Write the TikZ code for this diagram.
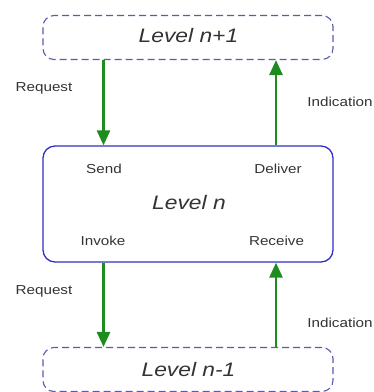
\documentclass[tikz,border=0pt]{standalone}
\usepackage{fontspec}
\setmainfont{Liberation Sans}
\newfontfamily\widesans[FakeStretch=1.17]{Liberation Sans}
\usetikzlibrary{arrows.meta}
\definecolor{dashblue}{HTML}{5A5AB0}
\definecolor{boxblue}{HTML}{3030C8}
\definecolor{arrgreen}{HTML}{1E8C1E}
\definecolor{txt}{HTML}{333333}
\begin{document}
\begin{tikzpicture}[x=1pt,y=-1pt,
  levelbox/.style={draw=dashblue,dashed,dash pattern=on 7pt off 4pt,line width=1.1pt,rounded corners=11pt,minimum width=290pt,minimum height=44pt,inner sep=0pt},
  mainbox/.style={draw=boxblue,line width=1.3pt,rounded corners=12pt,minimum width=290pt,minimum height=116pt,inner sep=0pt},
  lbl/.style={text=txt,font=\widesans\fontsize{13}{15}\selectfont,inner sep=0pt},
  big/.style={text=txt,font=\widesans\itshape\fontsize{19.5}{22}\selectfont,inner sep=0pt},
  flow/.style={draw=arrgreen,line width=2.6pt,-{Triangle[length=15pt,width=13pt]}}]
\useasboundingbox (0,0) rectangle (374,392);
\node[levelbox] (top) at (188,37.5) {};
\node[mainbox] (mid) at (188,204) {};
\node[levelbox] (bot) at (188,369.5) {};
\node[big] (ltop) at (188.5,36) {Level n+1};
\node[big] (lvl) at (189,202.5) {Level n};
\node[big] (lbot) at (188.5,370) {Level n-1};
\node[lbl] (send) at (104,168.5) {Send};
\node[lbl] (deliver) at (278,168.5) {Deliver};
\node[lbl] (invoke) at (103,241) {Invoke};
\node[lbl] (receive) at (276.5,241) {Receive};
\coordinate (xl) at (103.5,0);
\coordinate (xr) at (276,0);
\draw[flow] (top.south -| xl) -- (mid.north -| xl);
\draw[flow] (mid.north -| xr) -- (top.south -| xr);
\draw[flow] (mid.south -| xl) -- (bot.north -| xl);
\draw[flow] (bot.north -| xr) -- (mid.south -| xr);
\node[lbl] (req1) at (44,88) {Request};
\node[lbl] (ind1) at (340,102) {Indication};
\node[lbl] (req2) at (44,291) {Request};
\node[lbl] (ind2) at (340,323) {Indication};
\end{tikzpicture}
\end{document}
